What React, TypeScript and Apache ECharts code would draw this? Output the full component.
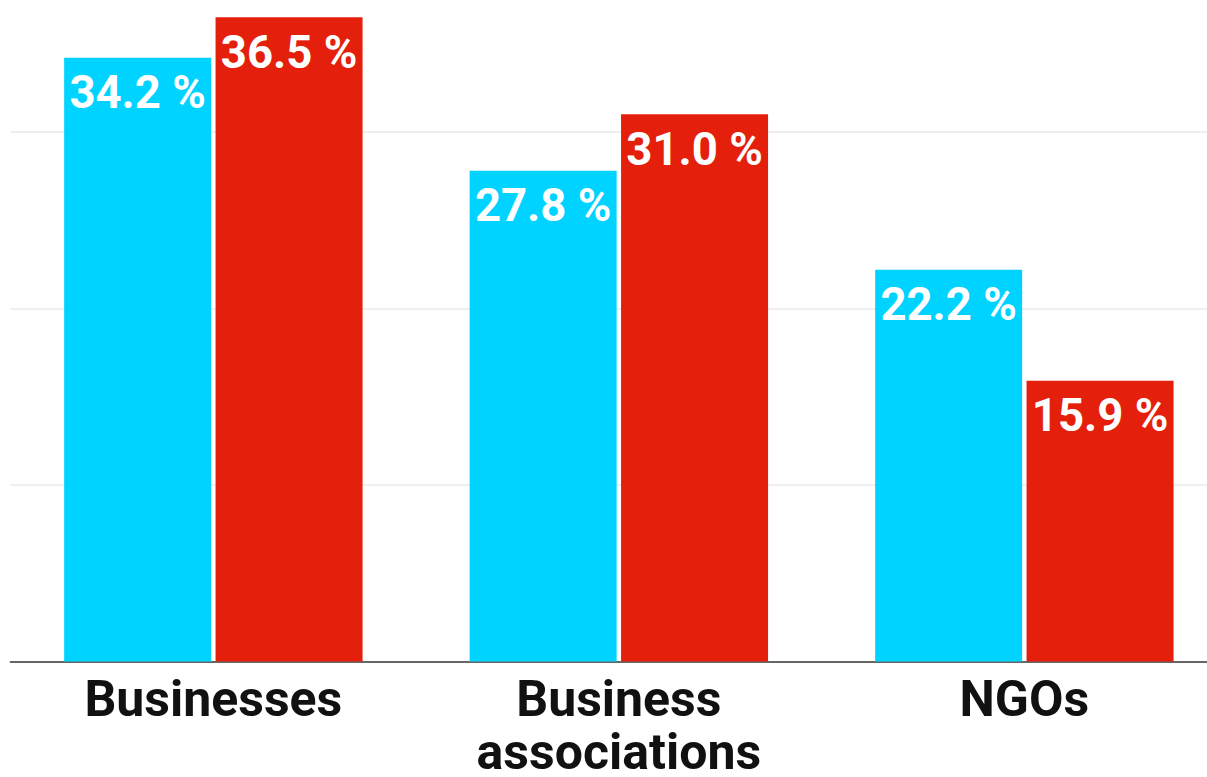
import React, { useEffect, useRef } from "react";
import * as echarts from "echarts";

const categories = ["Businesses", "Business\nassociations", "NGOs"];
const seriesA = [34.2, 27.8, 22.2];
const seriesB = [36.5, 31.0, 15.9];
const yTicks = { min: 0, max: 40, interval: 10 };

export default function App() {
  const ref = useRef<HTMLDivElement>(null);
  useEffect(() => {
    if (!ref.current) return;
    const chart = echarts.init(ref.current, null, { renderer: "svg" });
    const label = {
      show: true,
      position: "insideTop",
      distance: 12,
      color: "#ffffff",
      fontFamily: "Roboto",
      fontWeight: "bold",
      fontSize: 45.5,
      formatter: (p: any) => `${Number(p.value).toFixed(1)} %`,
    };
    chart.setOption({
      animation: false,
      backgroundColor: "#ffffff",
      grid: {
        left: 10.6,
        width: 1216.5,
        top: 0.5,
        height: 706,
        containLabel: false,
        outerBoundsMode: "none",
      },
      xAxis: {
        type: "category",
        data: categories,
        axisLine: { show: true, lineStyle: { color: "#666666", width: 2 } },
        axisTick: { show: false },
        axisLabel: {
          color: "#111111",
          fontFamily: "Roboto",
          fontWeight: "bold",
          fontSize: 50,
          lineHeight: 53,
          margin: 11,
          interval: 0,
        },
      },
      yAxis: {
        type: "value",
        min: yTicks.min,
        max: yTicks.max,
        interval: yTicks.interval,
        axisLabel: { show: false },
        axisLine: { show: false },
        axisTick: { show: false },
        splitLine: { show: true, lineStyle: { color: "#efefef", width: 2 } },
      },
      series: [
        {
          type: "bar",
          data: seriesA,
          barWidth: 147,
          barGap: "3%",
          itemStyle: { color: "#00D3FF" },
          label,
        },
        {
          type: "bar",
          data: seriesB,
          barWidth: 147,
          barGap: "3%",
          itemStyle: { color: "#E41F0B" },
          label,
        },
      ],
    });
    return () => chart.dispose();
  }, []);
  return (
    <div
      style={{
        position: "fixed",
        left: 0,
        top: 0,
        width: 1207,
        height: 777,
        overflow: "hidden",
        background: "#ffffff",
      }}
    >
      <div
        ref={ref}
        style={{ position: "absolute", left: 0, top: -45, width: 1230, height: 822 }}
      />
    </div>
  );
}
